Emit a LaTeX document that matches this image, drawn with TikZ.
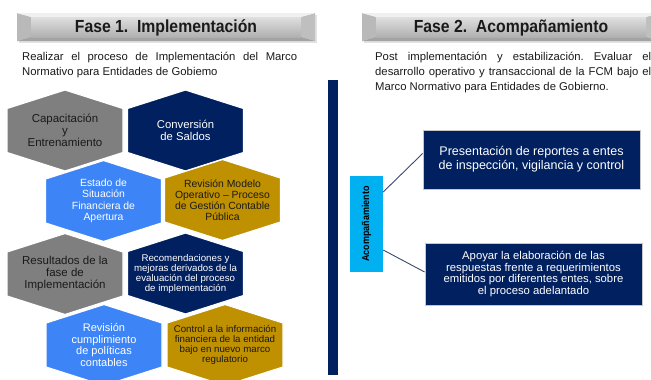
\documentclass[tikz,border=0pt]{standalone}
\usepackage{fontspec}
\setmainfont{Liberation Sans}
\newfontfamily\bannerfont[FakeStretch=0.9]{Liberation Sans}
\usetikzlibrary{calc}
\frenchspacing
\definecolor{navy}{HTML}{002060}
\definecolor{hexgray}{HTML}{7F7F7F}
\definecolor{hexblue}{HTML}{3D85F6}
\definecolor{hexgold}{HTML}{BF9000}
\definecolor{lightblue}{HTML}{00B0F0}
\definecolor{darktext}{HTML}{1A1A1A}
\definecolor{conncol}{HTML}{3B4A6B}
\newcommand\fsz[2]{\fontsize{#1}{#2}\selectfont}
% name, cx, cy, fill, text colour, size, leading, text
\newcommand\hexcell[8]{%
  \filldraw[fill=#4, draw=white, line width=1.2pt] (#2,#3) ++(0,-40.5) -- ++(58,18.5) -- ++(0,44) -- ++(-58,18.5) -- ++(-58,-18.5) -- ++(0,-44) -- cycle;
  \node[hextext, text=#5, font=\fsz{#6}{#7}] (#1) at (#2,#3) {#8};
}
% name, x0, x1, text
\newcommand\phasebanner[4]{%
  \fill[gray!22] (#2+2,15) rectangle (#3+2,43);
  \fill[gray!55] (#2,13) -- (#2+14,17) -- (#2+14,37) -- (#2,41) -- cycle;
  \fill[gray!50] (#3,13) -- (#3-14,17) -- (#3-14,37) -- (#3,41) -- cycle;
  \fill[gray!12] (#2,13) -- (#3,13) -- (#3-14,17) -- (#2+14,17) -- cycle;
  \fill[gray!72] (#2,41) -- (#3,41) -- (#3-14,37) -- (#2+14,37) -- cycle;
  \shade[top color=gray!25, bottom color=gray!62] (#2+14,17) rectangle (#3-14,37);
  \node[font=\bannerfont\fsz{17.5}{19}\bfseries, text=darktext] (#1) at ({(#2+#3)/2},27.5) {#4};
}
\begin{document}
\begin{tikzpicture}[x=1pt, y=-1pt,
  hextext/.style={align=center, inner sep=0pt},
  desc/.style={anchor=base west, align=justify, inner sep=0pt, font=\fsz{11.3}{15}, text=darktext},
  rbox/.style={fill=navy, draw=gray!45, line width=0.8pt, text=white, align=center, inner sep=0pt},
  conn/.style={draw=conncol, line width=0.9pt}]
\useasboundingbox (0,0) rectangle (651,380);

\phasebanner{fase1}{17}{315}{Fase 1.\ \ Implementación}
\phasebanner{fase2}{362}{660}{Fase 2.\ \ Acompañamiento}

\node[desc, text width=275pt] (desc1) at (22,60)
  {Realizar el proceso de Implementación del Marco\linebreak Normativo para Entidades de Gobiemo};
\node[desc, text width=276pt] (desc2) at (375,60)
  {Post implementación y estabilización. Evaluar el\linebreak desarrollo operativo y transaccional de la FCM bajo el\linebreak Marco Normativo para Entidades de Gobierno.};

% hexagons
\hexcell{h1}{65}{130.5}{hexgray}{darktext}{11.5}{12}{Capacitación\\y\\Entrenamiento}
\hexcell{h2}{185.5}{130.5}{navy}{white}{11.3}{12.5}{Conversión\\de Saldos}
\hexcell{h3}{103.5}{201}{hexblue}{white}{10.4}{11.5}{Estado de\\Situación\\Financiera de\\Apertura}
\hexcell{h4}{222.5}{200}{hexgold}{darktext}{10.4}{11}{Revisión Modelo\\Operativo -- Proceso\\de Gestión Contable\\Pública}
\hexcell{h5}{65}{274}{hexgray}{darktext}{11.5}{12}{Resultados de la\\fase de\\Implementación}
\hexcell{h6}{185.5}{273.5}{navy}{white}{9.7}{10}{Recomendaciones y\\mejoras derivados de la\\evaluación del proceso\\de implementación}
\hexcell{h7}{104}{345}{hexblue}{white}{11}{11.5}{Revisión\\cumplimiento\\de políticas\\contables}
\hexcell{h8}{225}{345}{hexgold}{darktext}{9.7}{9.8}{Control a la información\\financiera de la entidad\\bajo en nuevo marco\\regulatorio}

% vertical bar
\fill[navy] (328,80) rectangle (338,375);

% accompaniment
\node[fill=lightblue, minimum width=33pt, minimum height=96pt, inner sep=0pt] (acomp) at (366.5,224) {};
\node[rotate=90, font=\bannerfont\fsz{10}{10}\bfseries, text=black, inner sep=0pt] (acomplabel) at (acomp.center) {Acompañamiento};

\node[rbox, minimum width=217pt, minimum height=59pt, font=\fsz{12.5}{14}] (box1) at (531.5,159.5)
  {Presentación de reportes a entes\\de inspección, vigilancia y control};
\node[rbox, minimum width=217pt, minimum height=62pt, font=\fsz{11.3}{11.8}] (box2) at (533.5,274)
  {Apoyar la elaboración de las\\respuestas frente a requerimientos\\emitidos por diferentes entes, sobre\\el proceso adelantado};

\draw[conn] ([yshift=32pt]acomp.east) -- ([yshift=6pt]box1.west);
\draw[conn] ([yshift=-26pt]acomp.east) -- ([yshift=2pt]box2.west);
\end{tikzpicture}
\end{document}
